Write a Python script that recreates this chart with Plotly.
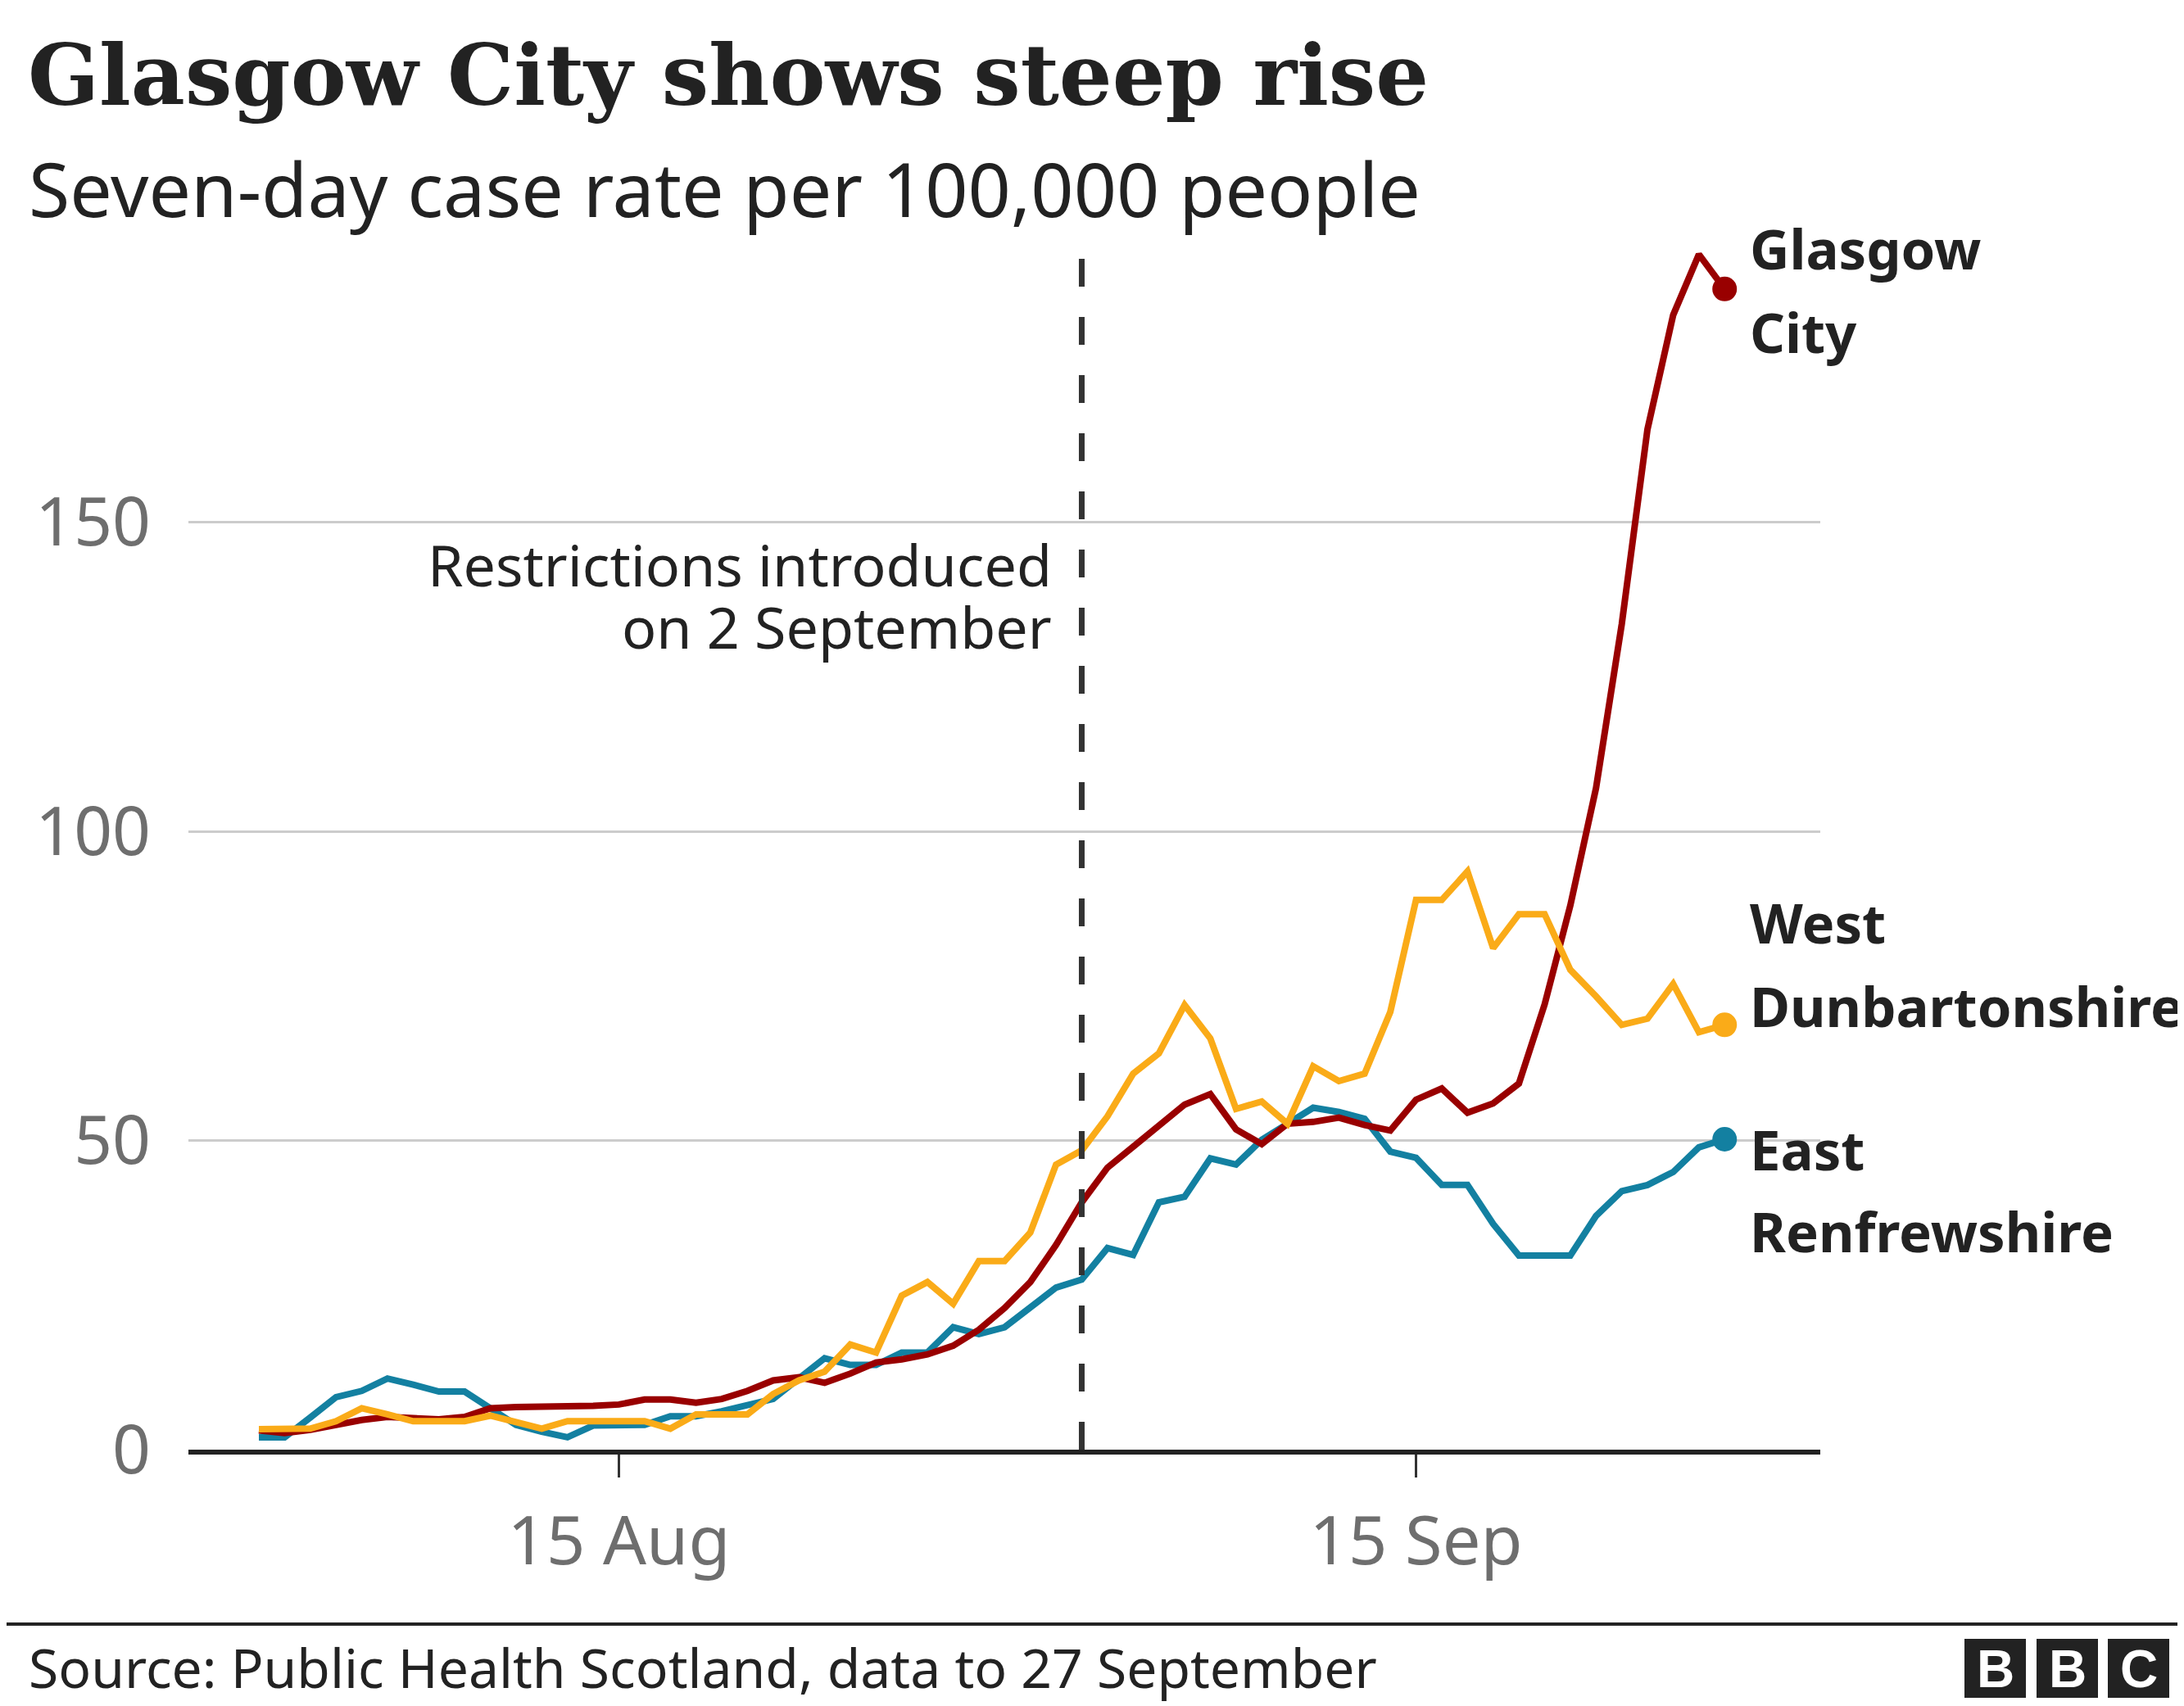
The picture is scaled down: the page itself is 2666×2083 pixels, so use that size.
import pandas as pd
import plotly.graph_objects as go

# ---------------- data ----------------
dates = pd.date_range("2020-08-01", "2020-09-27", freq="D")

glasgow_city = [3.1, 2.7, 3.2, 4.0, 4.8, 5.3, 5.2, 4.9, 5.3, 6.7,
                6.9, 6.9, 7.0, 7.1, 7.3, 8.1, 8.1, 7.6, 8.2, 9.5,
                11.2, 11.7, 10.8, 12.3, 14.1, 14.6, 15.4, 16.8, 19.4, 22.9,
                27.1, 33.1, 40.0, 45.6, 49.0, 52.3, 55.8, 57.5, 51.8, 49.4,
                52.7, 53.0, 53.7, 52.5, 51.6, 56.6, 58.4, 54.5, 56.0, 59.2,
                72.0, 88.0, 107.0, 133.5, 165.0, 183.5, 193.3, 187.7]

east_renfrewshire = [2.0, 2.0, 5.2, 8.5, 9.5, 11.5, 10.5, 9.4, 9.4, 6.8,
                     4.0, 2.9, 2.0, 3.9, 4.0, 4.0, 5.4, 5.4, 6.2, 7.3,
                     8.2, 11.5, 14.8, 13.7, 13.7, 15.7, 15.7, 19.8, 18.7, 19.8,
                     22.9, 26.2, 27.5, 32.6, 31.5, 40.0, 40.9, 47.1, 46.1, 50.1,
                     52.7, 55.3, 54.6, 53.5, 48.2, 47.2, 42.8, 42.8, 36.5, 31.4,
                     31.4, 31.4, 37.8, 41.8, 42.8, 44.9, 48.9, 50.2]

west_dunbartonshire = [3.3, 3.3, 3.4, 4.6, 6.7, 5.7, 4.6, 4.6, 4.6, 5.5,
                       4.4, 3.4, 4.6, 4.6, 4.6, 4.6, 3.4, 5.7, 5.7, 5.7,
                       9.0, 11.2, 12.6, 17.0, 15.7, 24.9, 27.1, 23.6, 30.5, 30.5,
                       35.1, 46.1, 48.4, 53.9, 60.8, 64.1, 71.9, 66.5, 55.1, 56.3,
                       52.7, 62.0, 59.6, 60.8, 70.8, 88.9, 88.9, 93.5, 81.1, 86.6,
                       86.6, 77.6, 73.3, 68.7, 69.7, 75.3, 67.5, 68.7]

restriction_date = "2020-09-02"
x_tick_dates = ["2020-08-15", "2020-09-15"]
x_tick_labels = ["15 Aug", "15 Sep"]
y_tick_values = [0, 50, 100, 150]
y_tick_labels = ["0", "50", "100", "150"]

# ---------------- layout geometry ----------------
# the page body has an 8px margin; positions below are page pixels
OFF = 8
W, H = 2666, 2083
PW, PH = 1992, 1510
L = 230 - OFF
T = 260 - OFF
R = W - L - PW
B = H - T - PH


def px(xp):
    return (xp - OFF - L) / PW


def py(yp):
    return (H - B - (yp - OFF)) / PH


RED, BLUE, ORANGE = "#990000", "#1380A1", "#FAAB18"
SANS = "Noto Sans, Open Sans, sans-serif"
DARK = "#222222"

start = pd.Timestamp("2020-08-01")
x_range = [start - pd.Timedelta(days=2.74), start + pd.Timedelta(days=60.72)]

fig = go.Figure()

series = [
    ("East Renfrewshire", east_renfrewshire, BLUE),
    ("Glasgow City", glasgow_city, RED),
    ("West Dunbartonshire", west_dunbartonshire, ORANGE),
]
for name, vals, col in series:
    fig.add_trace(go.Scatter(x=dates, y=vals, mode="lines", name=name,
                             line=dict(color=col, width=8, shape="linear"),
                             hoverinfo="skip"))
    fig.add_trace(go.Scatter(x=[dates[-1]], y=[vals[-1]], mode="markers",
                             marker=dict(color=col, size=30),
                             hoverinfo="skip", cliponaxis=False))

# dashed restriction line
fig.add_shape(type="line", xref="x", yref="y",
              x0=restriction_date, x1=restriction_date, y0=0, y1=193.9,
              line=dict(color="#333333", width=7, dash="34px,37px"),
              layer="above")

annotations = []
# restriction annotation
for txt, yp in [("Restrictions introduced", 689), ("on 2 September", 765)]:
    annotations.append(dict(xref="paper", yref="paper", x=px(1286), y=py(yp),
                            text=txt, showarrow=False,
                            xanchor="right", yanchor="middle",
                            font=dict(family=SANS, size=70, color=DARK)))

# series labels
label_lines = [("Glasgow", 303), ("City", 405),
               ("West", 1126), ("Dunbartonshire", 1228),
               ("East", 1403), ("Renfrewshire", 1503)]
for txt, yp in label_lines:
    annotations.append(dict(xref="paper", yref="paper", x=px(2134), y=py(yp),
                            text="<b>" + txt + "</b>", showarrow=False,
                            xanchor="left", yanchor="middle",
                            font=dict(family=SANS, size=67, color=DARK)))

# subtitle
annotations.append(dict(xref="paper", yref="paper", x=px(33), y=py(230),
                        text="Seven-day case rate per 100,000 people",
                        showarrow=False, xanchor="left", yanchor="middle",
                        font=dict(family=SANS, size=91.5, color=DARK)))

# source
annotations.append(dict(xref="paper", yref="paper", x=px(33), y=py(2035),
                        text="Source: Public Health Scotland, data to 27 September",
                        showarrow=False, xanchor="left", yanchor="middle",
                        font=dict(family=SANS, size=66, color=DARK)))

# footer rule
fig.add_shape(type="line", xref="paper", yref="paper",
              x0=px(0), x1=px(W + OFF), y0=py(1983), y1=py(1983),
              line=dict(color=DARK, width=4))

# BBC blocks
blocks = [(2398, "B"), (2486, "B"), (2573, "C")]
for x0, letter in blocks:
    fig.add_shape(type="rect", xref="paper", yref="paper",
                  x0=px(x0), x1=px(x0 + 75), y0=py(2073), y1=py(2001),
                  line=dict(width=0), fillcolor=DARK)
    annotations.append(dict(xref="paper", yref="paper", x=px(x0 + 37.5), y=py(2038),
                            text="<b>" + letter + "</b>", showarrow=False,
                            xanchor="center", yanchor="middle",
                            font=dict(family="Liberation Sans, Arial", size=64,
                                      color="#FFFFFF")))

fig.update_layout(
    width=W, height=H,
    margin=dict(l=L, r=R, t=T, b=B, autoexpand=False),
    paper_bgcolor="#FFFFFF", plot_bgcolor="#FFFFFF",
    showlegend=False,
    title=dict(text="<b>Glasgow City shows steep rise</b>",
               xref="container", yref="container",
               x=(34 - OFF) / W, y=1 - (92 - OFF) / H,
               xanchor="left", yanchor="middle",
               font=dict(family="DejaVu Serif, serif", size=102, color=DARK)),
    annotations=annotations,
    xaxis=dict(type="date", range=x_range,
               tickvals=x_tick_dates, ticktext=x_tick_labels,
               showgrid=False, zeroline=False,
               showline=True, linecolor=DARK, linewidth=6,
               ticks="outside", ticklen=28, tickwidth=3, tickcolor="#333333",
               ticklabelstandoff=6,
               tickfont=dict(family=SANS, size=83, color="#6E6E6E")),
    yaxis=dict(range=[0, 200], tickvals=y_tick_values, ticktext=y_tick_labels,
               showgrid=True, gridcolor="#CCCCCC", gridwidth=3,
               zeroline=False, showline=False, ticks="",
               ticklabelstandoff=45,
               tickfont=dict(family=SANS, size=82, color="#6E6E6E")),
)

fig.write_html("out.html")
